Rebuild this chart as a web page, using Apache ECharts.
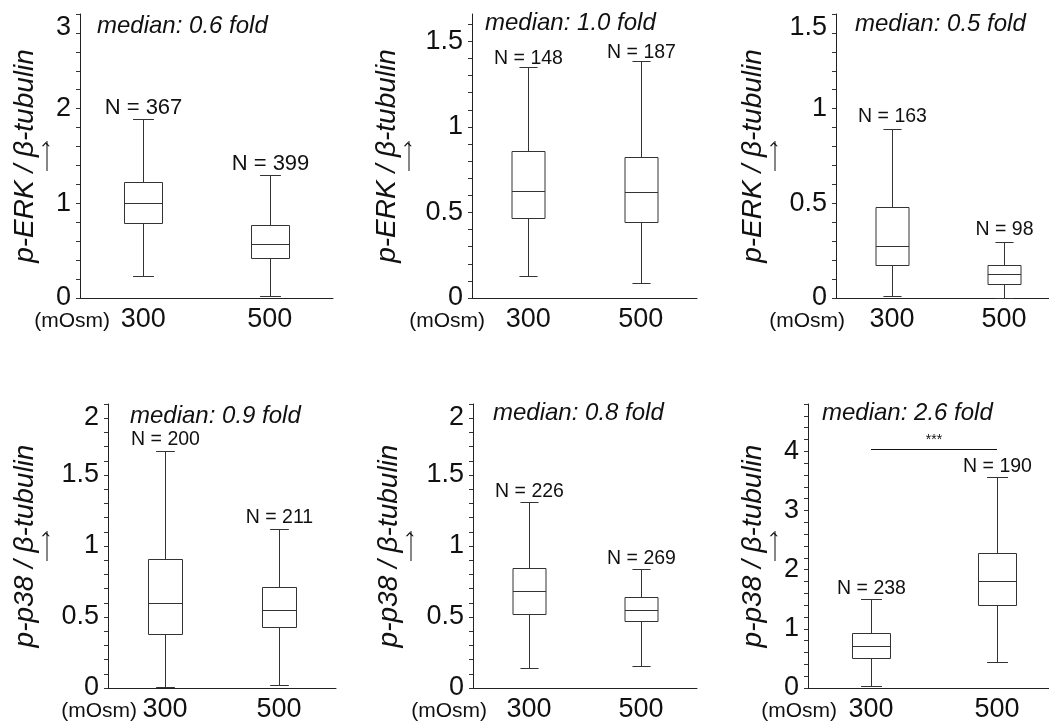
<!DOCTYPE html>
<html>
<head>
<meta charset="utf-8">
<script src="https://cdn.jsdelivr.net/npm/echarts@6/dist/echarts.min.js"></script>
<style>
  html, body { margin: 0; background: #fff; }
  #chart { width: 1049px; height: 725px; }
</style>
</head>
<body>
<div id="chart"></div>
<script>
const osmolality = ['300', '500'];

// box stats per condition: [min, Q1, median, Q3, max]
const erkPanelA = [[0.23, 0.79, 1.00, 1.23, 1.89], [0.02, 0.42, 0.57, 0.77, 1.30]];
const erkPanelB = [[0.13, 0.467, 0.628, 0.858, 1.348], [0.089, 0.446, 0.619, 0.827, 1.387]];
const erkPanelC = [[0.009, 0.175, 0.274, 0.482, 0.891], [0.002, 0.075, 0.128, 0.175, 0.298]];
const p38PanelA = [[0.007, 0.383, 0.601, 0.906, 1.669], [0.023, 0.432, 0.549, 0.714, 1.122]];
const p38PanelB = [[0.143, 0.521, 0.683, 0.845, 1.310], [0.153, 0.469, 0.552, 0.643, 0.840]];
const p38PanelC = [[0.028, 0.508, 0.706, 0.932, 1.497], [0.441, 1.401, 1.814, 2.277, 3.559]];

const sampleSizes = [[367, 399], [148, 187], [163, 98], [200, 211], [226, 269], [238, 190]];
const medianFold = ['0.6', '1.0', '0.5', '0.9', '0.8', '2.6'];
const yNames = ['p-ERK / β-tubulin', 'p-p38 / β-tubulin'];

const yMax = [3, 1.66, 1.5, 2, 2, 4.8];
const yLabelValues = [
  [0, 1, 2, 3],
  [0, 0.5, 1, 1.5],
  [0, 0.5, 1, 1.5],
  [0, 0.5, 1, 1.5, 2],
  [0, 0.5, 1, 1.5, 2],
  [0, 1, 2, 3, 4]
];
const tickStep = [0.2, 0.1, 0.1, 0.1, 0.1, 0.2];
const sigLevel = 4.04; // *** bracket in last panel

const panelStats = [erkPanelA, erkPanelB, erkPanelC, p38PanelA, p38PanelB, p38PanelC];

// layout per panel
const panels = [
  { left: 80,  top: 14,  width: 253, boxW: 38, nameGap: 44, unitGap: -30, titleLeft: 97,  titleTop: 14,  nOff: 12, nSize: 22, alignTop: true },
  { left: 472, top: 14,  width: 225, boxW: 33, nameGap: 74, unitGap: -13, titleLeft: 485, titleTop: 11,  nOff: 9,  nSize: 19.5, alignTop: false },
  { left: 836, top: 14,  width: 224, boxW: 33, nameGap: 72, unitGap: -9,  titleLeft: 855, titleTop: 12,  nOff: 13, nSize: 19.5, alignTop: true },
  { left: 108, top: 404, width: 228, boxW: 34, nameGap: 72, unitGap: -29, titleLeft: 130, titleTop: 404, nOff: 12, nSize: 19.5, alignTop: true },
  { left: 473, top: 404, width: 224, boxW: 33, nameGap: 73, unitGap: -14, titleLeft: 493, titleTop: 401, nOff: 11, nSize: 19.5, alignTop: true },
  { left: 808, top: 404, width: 252, boxW: 38, nameGap: 44, unitGap: -29, titleLeft: 822, titleTop: 401, nOff: 11, nSize: 19.5, alignTop: false }
];

const FONT = '"Liberation Sans", Arial, Helvetica, sans-serif';
const INK = '#111';

function tickValues(max, step) {
  const out = [];
  const n = Math.floor(max / step + 1e-6);
  for (let i = 0; i <= n; i++) out.push(+(i * step).toFixed(2));
  return out;
}

function renderBox(cfg) {
  return function (params, api) {
    const cat = api.value(0);
    const xc = Math.round(api.coord([cat, 0])[0]) + 0.5;
    const y = [1, 2, 3, 4, 5].map(i => Math.round(api.coord([cat, api.value(i)])[1]) + 0.5);
    const hw = cfg.boxW / 2;
    const cw = hw * 0.55;
    const ls = { stroke: '#333', lineWidth: 1, fill: null };
    return {
      type: 'group',
      children: [
        { type: 'line', shape: { x1: xc, y1: y[4], x2: xc, y2: y[3] }, style: ls },
        { type: 'line', shape: { x1: xc, y1: y[1], x2: xc, y2: y[0] }, style: ls },
        { type: 'line', shape: { x1: xc - cw, y1: y[4], x2: xc + cw, y2: y[4] }, style: ls },
        { type: 'line', shape: { x1: xc - cw, y1: y[0], x2: xc + cw, y2: y[0] }, style: ls },
        { type: 'rect', shape: { x: xc - hw, y: y[3], width: hw * 2, height: y[1] - y[3] },
          style: { stroke: '#333', fill: '#fff', lineWidth: 1 } },
        { type: 'line', shape: { x1: xc - hw, y1: y[2], x2: xc + hw, y2: y[2] }, style: ls },
        { type: 'text', x: xc, y: y[4] - cfg.nOff,
          style: { text: 'N = ' + api.value(6), fill: INK, font: cfg.nSize + 'px ' + FONT,
                   align: 'center', verticalAlign: 'middle' } }
      ]
    };
  };
}

const grid = [], xAxis = [], yAxis = [], series = [], title = [];

panels.forEach((p, i) => {
  const row = i < 3 ? 0 : 1;
  grid.push({ left: p.left, top: p.top, width: p.width, height: 284, outerBoundsMode: 'none', containLabel: false });
  title.push({
    text: 'median: ' + medianFold[i] + ' fold',
    left: p.titleLeft, top: p.titleTop, padding: 0,
    textStyle: { fontSize: 24, fontStyle: 'italic', fontWeight: 'normal', color: INK, fontFamily: FONT }
  });
  xAxis.push({
    type: 'category', gridIndex: i, data: osmolality,
    name: '(mOsm)', nameLocation: 'start', nameGap: p.unitGap, nameMoveOverlap: false,
    nameTextStyle: { fontSize: 21, color: INK, fontFamily: FONT, align: 'right', verticalAlign: 'top', padding: [13, 0, 0, 0] },
    axisLine: { lineStyle: { color: '#222', width: 1 } },
    axisTick: { show: false },
    axisLabel: { fontSize: 27, color: INK, fontFamily: FONT, margin: 8 },
    splitLine: { show: false }
  });
  yAxis.push({
    type: 'value', gridIndex: i, min: 0, max: yMax[i],
    // second line: thin shaft + small head, reads as an upward arrow once rotated
    name: '{t|' + yNames[row] + '}\n{l| }{h|›}',
    nameLocation: 'middle', nameGap: p.nameGap, nameMoveOverlap: false,
    nameTextStyle: {
      verticalAlign: 'middle',
      rich: {
        t: { fontSize: 28, fontStyle: 'italic', color: INK, fontFamily: FONT, lineHeight: 22 },
        l: { width: 30, height: 1, backgroundColor: INK, lineHeight: 22, fontSize: 1 },
        h: { fontSize: 18, color: INK, fontFamily: '"DejaVu Sans", sans-serif', lineHeight: 22, padding: [0, 0, 2, -7] }
      }
    },
    axisLine: { show: true, lineStyle: { color: '#222', width: 1 } },
    axisTick: { show: true, inside: false, length: 4, lineStyle: { color: '#333' },
                customValues: tickValues(yMax[i], tickStep[i]) },
    axisLabel: { fontSize: 27, color: INK, fontFamily: FONT, margin: 9,
                 customValues: yLabelValues[i],
                 verticalAlignMaxLabel: p.alignTop ? 'top' : null },
    splitLine: { show: false }
  });
  const s = {
    type: 'custom', xAxisIndex: i, yAxisIndex: i,
    renderItem: renderBox(p),
    encode: { x: 0, y: [1, 2, 3, 4, 5] },
    data: panelStats[i].map((b, k) => [k].concat(b, [sampleSizes[i][k]])),
    silent: true
  };
  if (i === 5) {
    s.markLine = {
      silent: true, symbol: ['none', 'none'],
      lineStyle: { color: INK, width: 1, type: 'solid' },
      label: { show: true, position: 'middle', formatter: '***', fontSize: 14, color: INK, distance: 2 },
      data: [[{ coord: [0, sigLevel] }, { coord: [1, sigLevel] }]]
    };
  }
  series.push(s);
});

const chart = echarts.init(document.getElementById('chart'), null, { renderer: 'canvas' });
chart.setOption({ animation: false, backgroundColor: '#fff', title, grid, xAxis, yAxis, series });
</script>
</body>
</html>
